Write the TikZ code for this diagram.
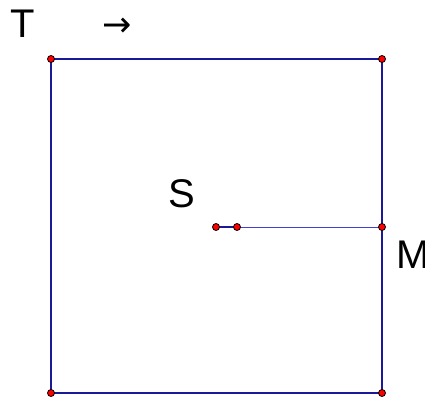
\documentclass[tikz,border=0pt]{standalone}
\usepackage{fontspec}
\setmainfont{Liberation Sans}
\newfontfamily\symfont{DejaVu Sans}
\usetikzlibrary{positioning}
\definecolor{edgeblue}{HTML}{1A1A99}
\definecolor{thinblue}{HTML}{4040D8}
\definecolor{ptred}{HTML}{FF0000}
\tikzset{
  pt/.style={circle,draw=black,fill=ptred,minimum size=7pt,inner sep=0pt,line width=0.8pt},
  side/.style={draw=edgeblue,line width=1.4pt},
  guide/.style={draw=thinblue,line width=0.6pt},
  lbl/.style={inner sep=0pt,anchor=base west,font=\fontsize{40}{40}\selectfont},
}

\begin{document}
\begin{tikzpicture}[x=1pt,y=-1pt]
  \useasboundingbox (0,0) rectangle (425,401);
  % corners of the square
  \coordinate (a) at (51,59);
  \coordinate (b) at (382,59);
  \coordinate (c) at (382,393);
  \coordinate (d) at (51,393);
  \coordinate (s) at (216,227);
  \coordinate (e) at (237,227);
  \coordinate (m) at (382,227);

  \draw[side] (a) -- (b) -- (c) -- (d) -- cycle;
  \draw[guide] (e) -- (m);
  \draw[side] (s) -- (e);

  \foreach \p in {a,b,c,d,s,e,m}
    \node[pt] (\p pt) at (\p) {};

  \node[lbl] (tl) at (10,38) {T};
  \node[font=\symfont\fontsize{35}{35}\selectfont,inner sep=0pt] (arr) at (117,27) {→};
  \node[lbl] (sl) at (168,207) {S};
  \node[lbl] (ml) at (396,268) {M};
\end{tikzpicture}
\end{document}
